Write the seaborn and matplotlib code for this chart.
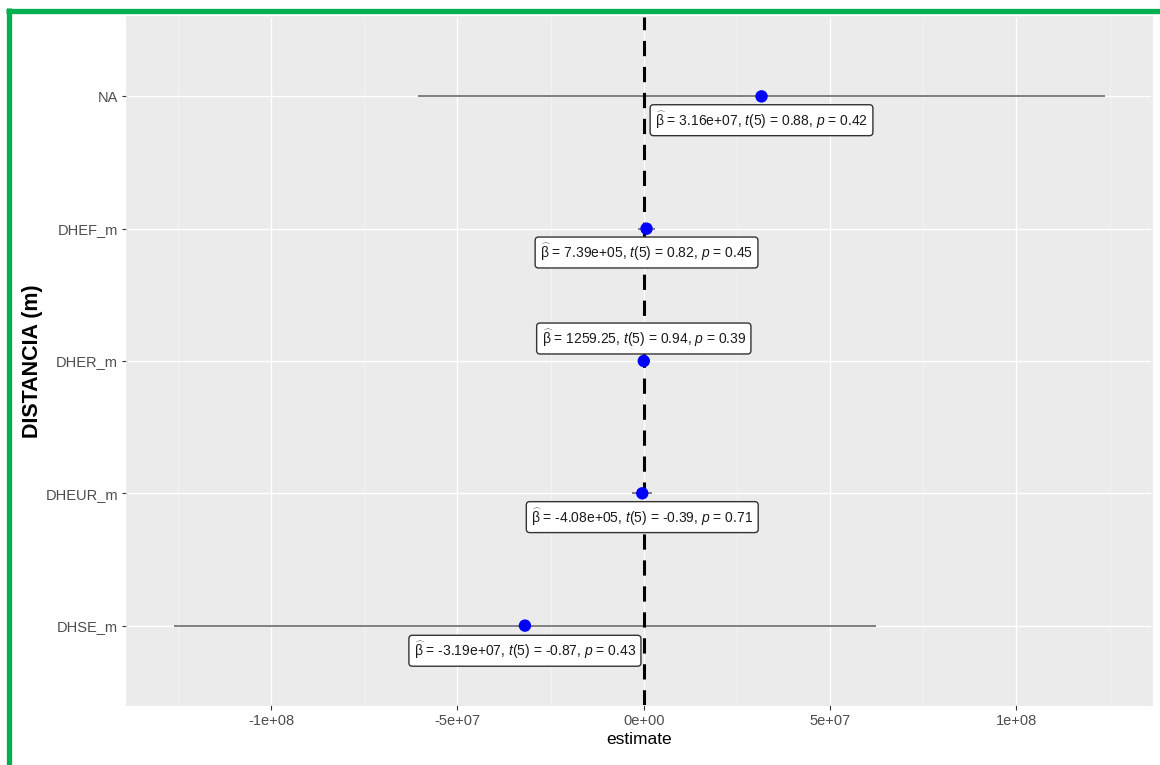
import matplotlib.pyplot as plt
import seaborn as sns
import numpy as np
import pandas as pd
from matplotlib.lines import Line2D
from matplotlib.ticker import MultipleLocator, FuncFormatter

# =============================================================================
# DADOS (lidos do gráfico de coeficientes)
# =============================================================================

termos = ["NA", "DHEF_m", "DHER_m", "DHEUR_m", "DHSE_m"]
estimativa = [3.16e7, 7.39e5, 1259.25, -4.08e5, -3.19e7]
ic_inferior = [-6.07e7, -1.58e6, -2184.0, -3.10e6, -1.262e8]
ic_superior = [1.239e8, 3.06e6, 4702.0, 2.28e6, 6.24e7]
estat_t = ["0.88", "0.82", "0.94", "-0.39", "-0.87"]
valor_p = ["0.42", "0.45", "0.39", "0.71", "0.43"]
rotulo_beta = ["3.16e+07", "7.39e+05", "1259.25", "-4.08e+05", "-3.19e+07"]
gl_residuo = 5

df = pd.DataFrame({
    "term": termos,
    "estimate": estimativa,
    "conf_low": ic_inferior,
    "conf_high": ic_superior,
})
df["pos"] = np.arange(len(df))

# deslocamento vertical das caixas (como o ggrepel espalhou)
desloc_rotulo = [0.18, 0.18, -0.17, 0.18, 0.19]

# =============================================================================
# ESTILO (imitando theme_gray do ggplot2)
# =============================================================================

sns.set_theme(style="darkgrid", rc={
    "axes.facecolor": "#EBEBEB",
    "grid.color": "white",
    "axes.edgecolor": "#EBEBEB",
    "xtick.color": "#333333",
    "ytick.color": "#333333",
    "xtick.labelcolor": "#4D4D4D",
    "ytick.labelcolor": "#4D4D4D",
    "xtick.bottom": True,
    "ytick.left": True,
    "xtick.major.size": 3.5,
    "ytick.major.size": 3.5,
    "xtick.major.width": 0.8,
    "ytick.major.width": 0.8,
})
plt.rcParams["font.family"] = ["Liberation Sans", "DejaVu Sans"]
plt.rcParams["mathtext.fontset"] = "custom"
plt.rcParams["mathtext.rm"] = "Liberation Sans"
plt.rcParams["mathtext.it"] = "Liberation Sans:italic"
plt.rcParams["mathtext.bf"] = "Liberation Sans:bold"

fig = plt.figure(figsize=(11.6, 7.65), dpi=100)
ax = fig.add_axes([127 / 1160, 1 - 705 / 765, (1152 - 127) / 1160, (705 - 17) / 765])

# grade maior e menor
ax.xaxis.set_major_locator(MultipleLocator(5e7))
ax.xaxis.set_minor_locator(MultipleLocator(2.5e7))
ax.grid(which="major", color="white", linewidth=1.0)
ax.grid(which="minor", axis="x", color="#F5F5F5", linewidth=0.6)
ax.tick_params(which="minor", length=0)
ax.set_axisbelow(True)

# intervalos de confiança
ax.hlines(df["pos"], df["conf_low"], df["conf_high"], color="#7F7F7F", linewidth=1.4, zorder=2)

# linha de referência em zero
ax.axvline(0, color="black", linestyle=(0, (5, 3.5)), linewidth=2.2, zorder=3)

# estimativas pontuais
sns.scatterplot(data=df, x="estimate", y="pos", color="#0000FF", s=80, edgecolor="none",
                ax=ax, zorder=4, legend=False)

# caixas com os rótulos estatísticos
for i, row in df.iterrows():
    txt = (r"$\widehat{\mathrm{\beta}}$ = " + rotulo_beta[i] + ", $t$(" + str(gl_residuo) +
           ") = " + estat_t[i] + ", $p$ = " + valor_p[i])
    ax.text(row["estimate"], row["pos"] + desloc_rotulo[i], txt, ha="center", va="center",
            fontsize=10, color="#1A1A1A", zorder=5,
            bbox=dict(boxstyle="round,pad=0.35,rounding_size=0.25", facecolor="white",
                      edgecolor="#333333", linewidth=1.0))

# limites (expansão de 5% como no ggplot)
x_min, x_max = min(ic_inferior), max(ic_superior)
folga = 0.05 * (x_max - x_min)
ax.set_xlim(x_min - folga, x_max + folga)
ax.set_ylim(len(termos) - 1 + 0.6, -0.6)

ax.set_yticks(df["pos"])
ax.set_yticklabels(termos)
ax.xaxis.set_major_formatter(FuncFormatter(
    lambda v, _: "0e+00" if v == 0 else f"{v:.0e}".replace("e+0", "e+0")))
ax.tick_params(axis="both", labelsize=10.5, pad=3)

ax.set_xlabel("estimate", fontsize=12.5, color="black", labelpad=3)
ax.set_ylabel("DISTANCIA (m)", fontsize=15.5, fontweight="bold", color="black")
ax.yaxis.set_label_coords(-0.082, 0.5)

# moldura verde do recorte original
fig.add_artist(Line2D([6 / 1160, 1.0], [1 - 10.5 / 765] * 2, transform=fig.transFigure,
                      color="#00B050", linewidth=3.8, solid_capstyle="butt"))
fig.add_artist(Line2D([8.5 / 1160] * 2, [0.0, 1 - 8 / 765], transform=fig.transFigure,
                      color="#00B050", linewidth=3.8, solid_capstyle="butt"))

fig.savefig("out.png", dpi=100)
